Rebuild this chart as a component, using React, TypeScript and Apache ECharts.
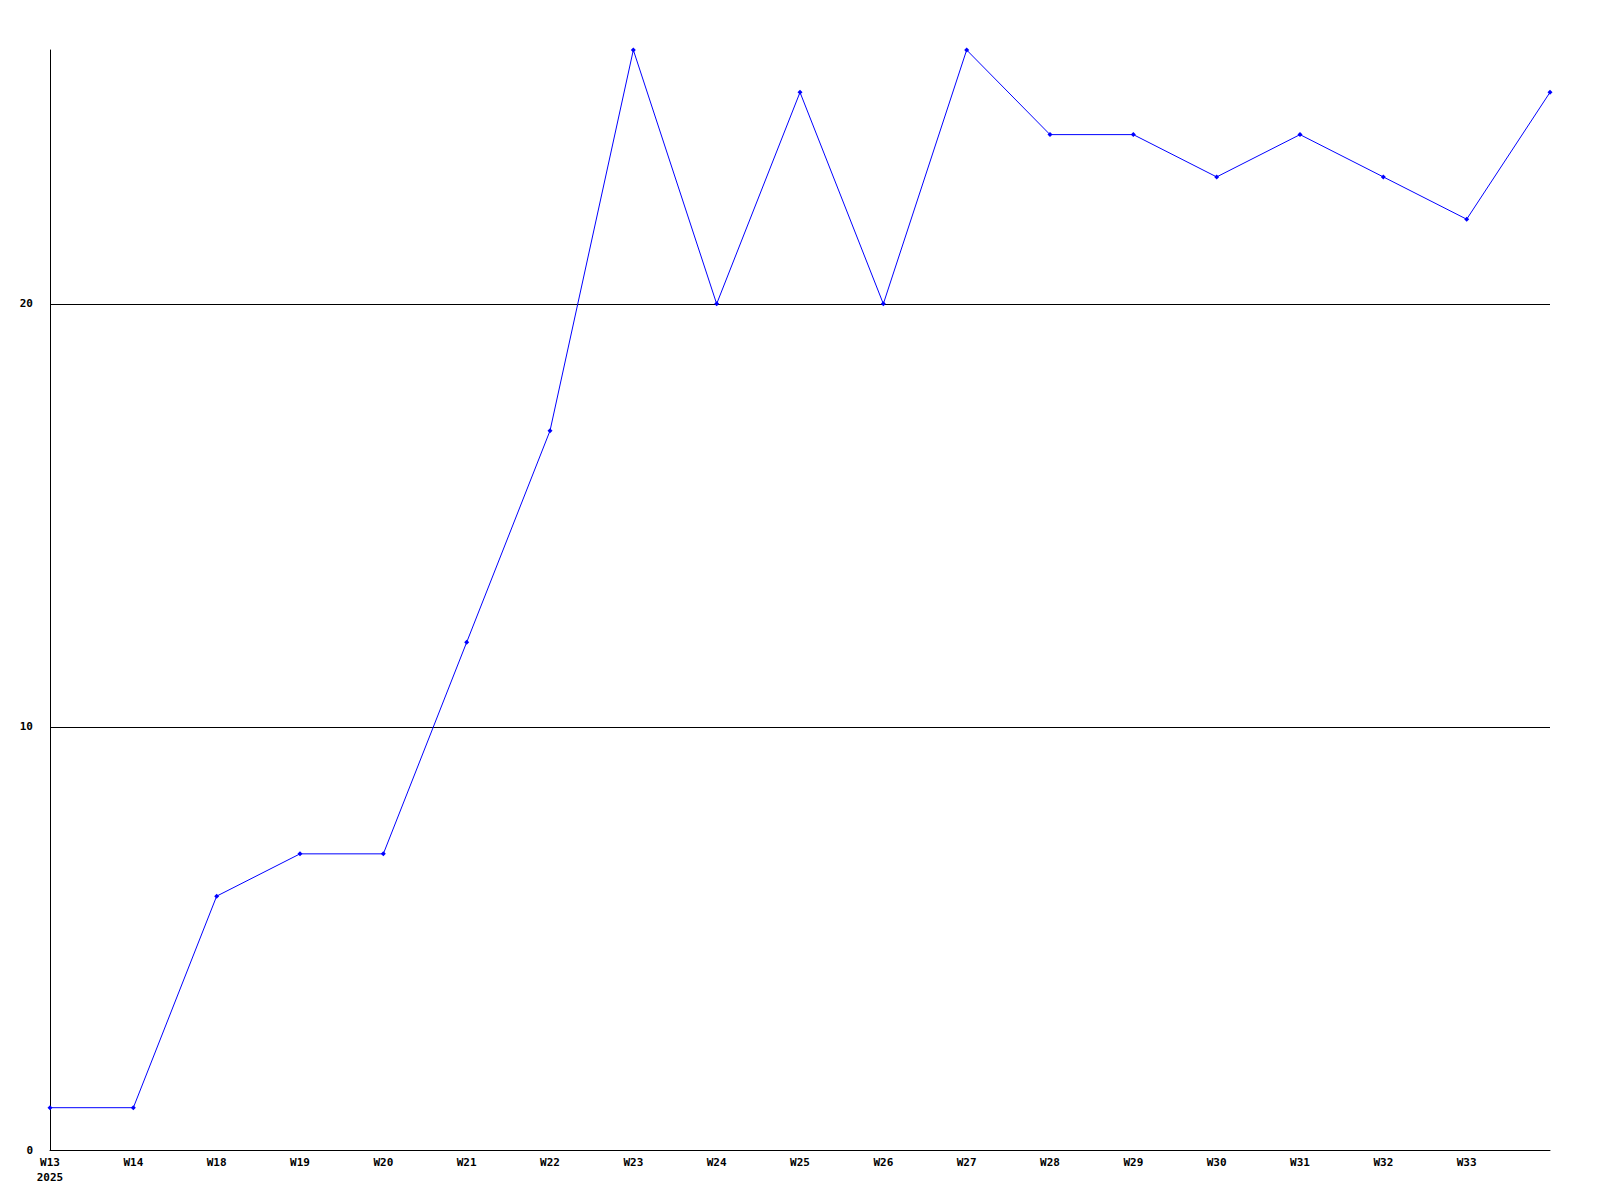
import React, { useEffect, useRef } from "react";
import * as echarts from "echarts";

const categories = ["W13\n2025", "W14", "W18", "W19", "W20", "W21", "W22", "W23", "W24", "W25", "W26", "W27", "W28", "W29", "W30", "W31", "W32", "W33", ""];
const values = [1, 1, 6, 7, 7, 12, 17, 26, 20, 25, 20, 26, 24, 24, 23, 24, 23, 22, 25];

export default function App() {
  const ref = useRef<HTMLDivElement>(null);
  useEffect(() => {
    document.body.style.margin = "0";
    const chart = echarts.init(ref.current!, null, { renderer: "svg" });
    const font = { fontFamily: "DejaVu Sans Mono", fontWeight: "bold" as const, fontSize: 11, color: "#000" };
    chart.setOption({
      animation: false,
      backgroundColor: "#fff",
      grid: { left: 50, right: 50, top: 50, bottom: 50, containLabel: false },
      xAxis: {
        type: "category",
        data: categories,
        boundaryGap: false,
        axisLine: { show: true, lineStyle: { color: "#000", width: 1 } },
        axisTick: { show: false },
        axisLabel: { ...font, margin: 5, interval: 0, lineHeight: 15, align: "center" },
        splitLine: { show: false },
      },
      yAxis: {
        type: "value",
        min: 0,
        max: 26,
        interval: 10,
        axisLine: { show: true, lineStyle: { color: "#000", width: 1 } },
        axisTick: { show: false },
        axisLabel: { ...font, margin: 17, showMaxLabel: false },
        splitLine: { show: true, showMinLine: false, showMaxLine: false, lineStyle: { color: "#000", width: 1 } },
      },
      series: [
        {
          type: "line",
          data: values,
          symbol: "diamond",
          symbolSize: 5,
          lineStyle: { color: "#0000ff", width: 1 },
          itemStyle: { color: "#0000ff" },
        },
      ],
    });
    return () => chart.dispose();
  }, []);
  return <div ref={ref} style={{ width: 1600, height: 1200 }} />;
}
